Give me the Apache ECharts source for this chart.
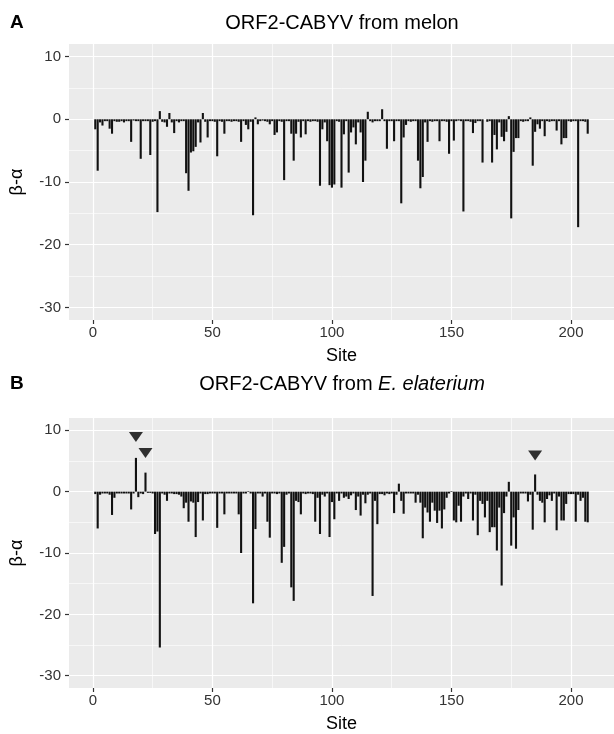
<!DOCTYPE html>
<html><head><meta charset="utf-8">
<script src="https://cdn.jsdelivr.net/npm/echarts@6/dist/echarts.min.js"></script>
<style>html,body{margin:0;padding:0;background:#fff}#c{width:614px;height:734px}</style>
</head><body><div id="c"></div>
<script>
// ---- data ----
const titleA = 'ORF2-CABYV from melon';
const titleBPlain = 'ORF2-CABYV from ';
const titleBItalic = 'E. elaterium';
const panelLetters = ['A', 'B'];
const xName = 'Site';
const yName = 'β-α';
const xTicks = [0, 50, 100, 150, 200];
const xMinor = [25, 75, 125, 175];
const yTicks = [-30, -20, -10, 0, 10];
const yMinor = [-25, -15, -5, 5];
// beta - alpha per site (site 1..207), panel A (melon)
const melonValues = [
 -1.6,-8.2,-0.5,-1.0,-0.3,-0.3,-1.5,-2.3,-0.3,-0.4,
 -0.4,-0.3,-0.5,-0.3,-0.3,-3.6,-0.2,-0.3,-0.3,-6.3,
 -0.3,-0.3,-0.3,-5.7,-0.4,-0.3,-14.8,1.3,-0.4,-0.5,
 -1.2,1.0,-0.5,-2.2,-0.3,-0.5,-0.3,-0.3,-8.6,-11.4,
 -5.3,-5.1,-4.4,-0.5,-3.7,1.0,-0.4,-2.9,-0.3,-0.3,
 -0.4,-5.9,-0.3,-0.4,-2.3,-0.3,-0.3,-0.4,-0.3,-0.3,
 -0.4,-3.6,-0.3,-0.9,-1.6,-0.4,-15.3,0.3,-0.8,-0.3,
 -0.2,-0.3,-0.4,-0.8,-0.3,-2.5,-2.1,-0.3,-0.4,-9.7,
 -0.3,-0.3,-2.3,-6.6,-2.3,-0.4,-2.9,-0.3,-2.4,-0.3,
 -0.4,-0.3,-0.3,-0.4,-10.6,-1.6,-0.5,-3.5,-10.5,-10.9,
 -10.4,-0.3,-0.4,-10.9,-2.4,-0.3,-8.5,-2.1,-1.3,-4.0,
 -0.5,-2.1,-10.0,-6.6,1.2,-0.3,-0.5,-0.3,-0.3,-0.3,
 1.6,-0.3,-4.7,-0.3,-0.3,-3.5,-0.3,-0.3,-13.4,-2.9,
 -0.9,-0.3,-0.4,-0.3,-0.3,-6.6,-11.0,-9.2,-0.5,-3.6,
 -0.3,-0.4,-0.3,-0.3,-3.5,-0.3,-0.3,-0.4,-5.5,-0.3,
 -3.4,-0.3,-0.2,-0.3,-14.7,-0.3,-0.3,-0.4,-2.2,-0.6,
 -0.3,-0.3,-6.9,0,-0.4,-0.3,-6.9,-2.5,-4.8,-0.5,
 -2.8,-3.5,-2.0,0.5,-15.8,-5.2,-3.0,-3.0,-0.3,-0.4,
 -0.3,-0.3,0.3,-7.4,-2.0,-0.8,-1.5,-0.3,-2.7,-0.3,
 -0.4,-0.3,-0.3,-1.8,-0.3,-4.0,-3.0,-3.0,-0.3,-0.4,
 -0.3,-0.3,-17.2,-0.3,-0.3,-0.4,-2.3
];
// panel B (E. elaterium)
const elateriumValues = [
 -0.4,-6.0,-0.5,-0.3,-0.3,-0.3,-0.5,-3.8,-1.0,-0.3,
 -0.3,-0.3,-0.3,-0.3,-0.3,-2.9,-0.3,5.5,-0.9,-0.3,
 -0.4,3.1,-0.2,-0.2,-0.3,-6.9,-6.5,-25.4,-0.3,-0.5,
 -1.5,-0.3,-0.3,-0.4,-0.4,-0.5,-0.8,-2.7,-1.8,-4.9,
 -1.6,-1.8,-7.4,-1.7,-0.3,-4.7,-0.4,-0.4,-0.3,-0.3,
 -0.3,-5.9,-0.3,-0.3,-3.7,-0.3,-0.3,-0.3,-0.3,-0.3,
 -3.7,-10.0,-0.3,-0.3,0.1,-0.3,-18.2,-6.1,-0.3,-0.3,
 -0.8,-0.3,-4.9,-7.5,-0.3,-0.3,-0.4,-0.3,-11.6,-9.0,
 -0.5,-0.3,-15.6,-17.8,-1.5,-1.7,-3.7,-0.3,-0.4,-0.3,
 -0.3,-0.4,-4.9,-1.0,-6.9,-0.5,-0.8,-0.3,-7.4,-1.7,
 -4.5,-0.3,-1.5,-0.3,-1.0,-0.8,-1.2,-0.6,-0.3,-3.0,
 -0.8,-3.9,-0.5,-1.9,-0.5,-0.3,-17.0,-1.5,-5.3,-0.4,
 -0.4,-0.6,-0.3,-0.4,-0.3,-3.5,-0.5,1.3,-1.5,-3.6,
 -0.3,-0.3,-0.3,-0.3,-1.8,-0.5,-1.8,-7.6,-2.6,-3.4,
 -4.9,-1.8,-3.1,-5.1,-3.1,-6.0,-2.9,-1.0,-0.3,0.1,
 -4.7,-5.0,-2.3,-4.9,-0.8,-0.3,-1.2,-0.3,-4.7,-0.5,
 -7.1,-1.5,-2.0,-4.2,-1.5,-6.6,-5.8,-5.8,-9.6,-2.6,
 -15.3,-3.5,-0.8,1.6,-8.8,-4.2,-9.3,-3.0,-0.3,-0.3,
 -0.3,-1.6,-0.5,-6.2,2.8,-0.5,-1.5,-1.8,-5.0,-1.2,
 -0.6,-1.5,-0.3,-6.3,-0.8,-4.7,-4.7,-2.0,-0.4,-0.4,
 -0.4,-4.9,-0.5,-1.5,-1.0,-4.9,-5.0
];
// arrowhead markers (panel B)
const markerSites = [18, 22, 185];
const markerY = [8.9, 6.3, 5.9];

// ---- chart ----
const FF = '"Liberation Sans", Arial, Helvetica, sans-serif';
const chart = echarts.init(document.getElementById('c'), null, {renderer: 'canvas'});
const toPairs = arr => arr.map((v, i) => [i + 1, v]);

function gridLines() {
  const d = [];
  xTicks.forEach(v => d.push({xAxis: v, lineStyle: {width: 1.2}}));
  xMinor.forEach(v => d.push({xAxis: v, lineStyle: {width: 0.6}}));
  yTicks.forEach(v => d.push({yAxis: v, lineStyle: {width: 1.2}}));
  yMinor.forEach(v => d.push({yAxis: v, lineStyle: {width: 0.6}}));
  return d;
}
function xAx(gi) {
  return {
    type: 'value', gridIndex: gi, min: -10, max: 218,
    axisLine: {show: true, onZero: false, lineStyle: {color: 'rgba(0,0,0,0)'}},
    axisTick: {show: true, customValues: xTicks, length: 4, lineStyle: {color: '#333', width: 1.2}},
    axisLabel: {customValues: xTicks, margin: 5, fontSize: 15, color: '#333', fontFamily: FF},
    splitLine: {show: false},
    name: xName, nameLocation: 'middle', nameGap: 27,
    nameTextStyle: {fontSize: 18, color: '#000', fontFamily: FF}
  };
}
function yAx(gi) {
  return {
    type: 'value', gridIndex: gi, min: -32, max: 12,
    axisLine: {show: true, onZero: false, lineStyle: {color: 'rgba(0,0,0,0)'}},
    axisTick: {show: true, customValues: yTicks, length: 4, lineStyle: {color: '#333', width: 1.2}},
    axisLabel: {customValues: yTicks, margin: 8, fontSize: 15, color: '#333', fontFamily: FF},
    splitLine: {show: false},
    name: yName, nameLocation: 'middle', nameRotate: 90, nameGap: 43,
    nameTextStyle: {fontSize: 18, color: '#000', fontFamily: FF}
  };
}
function gridSeries(gi) {
  return {
    type: 'line', xAxisIndex: gi, yAxisIndex: gi, data: [], silent: true, z: 1,
    markLine: {silent: true, symbol: ['none', 'none'], label: {show: false}, z: 1,
      lineStyle: {color: '#FFFFFF', type: 'solid', opacity: 1}, emphasis: {disabled: true},
      animation: false, data: gridLines()}
  };
}
function barSeries(gi, vals) {
  return {
    type: 'bar', xAxisIndex: gi, yAxisIndex: gi, data: toPairs(vals),
    barWidth: 2.1, itemStyle: {color: '#111111'}, z: 3, silent: true, animation: false
  };
}

const option = {
  animation: false,
  backgroundColor: '#FFFFFF',
  grid: [
    {left: 66, top: 44, width: 552, height: 276, show: true, backgroundColor: '#EBEBEB', borderWidth: 0},
    {left: 66, top: 418, width: 552, height: 276, show: true, backgroundColor: '#EBEBEB', borderWidth: 0}
  ],
  xAxis: [xAx(0), xAx(1)],
  yAxis: [yAx(0), yAx(1)],
  series: [
    gridSeries(0), gridSeries(1),
    barSeries(0, melonValues), barSeries(1, elateriumValues),
    {type: 'scatter', xAxisIndex: 1, yAxisIndex: 1, z: 4, silent: true,
     data: markerSites.map((s, i) => [s, markerY[i]]),
     symbol: 'triangle', symbolRotate: 180, symbolSize: [14, 10],
     itemStyle: {color: '#000'}}
  ],
  graphic: [
    {type: 'text', left: 10, top: 13, style: {text: panelLetters[0], font: 'bold 19px ' + FF, fill: '#000'}},
    {type: 'text', left: 10, top: 374, style: {text: panelLetters[1], font: 'bold 19px ' + FF, fill: '#000'}},
    {type: 'text', x: 342, y: 23, style: {text: titleA, font: '20px ' + FF, fill: '#000', align: 'center', verticalAlign: 'middle'}},
    {type: 'text', x: 342, y: 384, style: {
      text: '{n|' + titleBPlain + '}{i|' + titleBItalic + '}', align: 'center', verticalAlign: 'middle',
      rich: {n: {font: '20px ' + FF, fill: '#000'}, i: {font: 'italic 20px ' + FF, fill: '#000'}}}}
  ]
};
chart.setOption(option);
</script>
</body></html>
